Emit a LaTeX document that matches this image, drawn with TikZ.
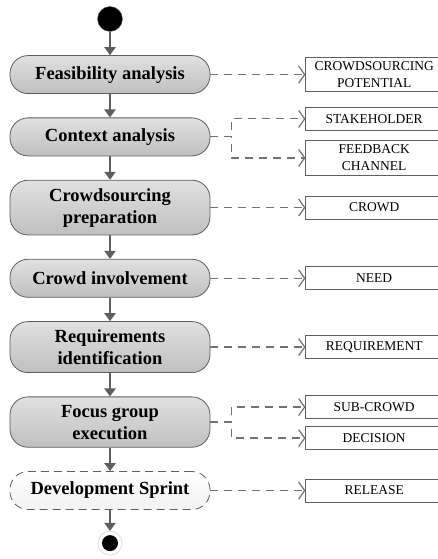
\documentclass[tikz,border=0pt]{standalone}
\usepackage{fontspec}
\setmainfont{Liberation Serif}
\usetikzlibrary{
  arrows.meta, % for Triangle and Straight Barb arrow tips
  positioning, % for relative positioning of the activities and artefacts
}
\definecolor{linegray}{HTML}{5E5E5E}
\definecolor{dashgray}{HTML}{727272}
\tikzset{
  activity/.style={ % style for each activity of the process
    rectangle,rounded corners=18pt, % drawn as a rounded box
    draw=linegray,thick,
    top color=gray!24,bottom color=gray!50, % light to dark gray shading
    minimum width=200pt,minimum height=38pt,
    align=center,inner ysep=8pt,
    font=\fontsize{18.5}{22}\selectfont\bfseries,
  },
  sprint/.style={ % the optional last activity
    activity, % inherit the activity style
    dash pattern=on 8pt off 5pt,
    top color=white,bottom color=gray!10,
  },
  artefact/.style={ % style for the produced artefacts
    rectangle,draw=linegray,thick,fill=white,
    minimum width=136pt,minimum height=23pt,
    text width=130pt,align=center,inner ysep=4pt,
    font=\fontsize{13.5}{17}\selectfont,
  },
  flow/.style={ % style for the control flow
    -{Triangle[length=8pt,width=11pt]},
    line width=2pt,draw=linegray,
  },
  dep/.style={ % style for the dashed artefact links
    -{Straight Barb[length=6pt,width=17pt]},
    line width=1.2pt,draw=dashgray,
    dash pattern=on 8pt off 6pt,
  },
  node distance=23.5pt,
}

\begin{document}
\begin{tikzpicture}

	\useasboundingbox (-110pt,19pt) rectangle (328pt,-540pt);
	\clip (-110pt,19pt) rectangle (328pt,-540pt);

	\node[circle,fill=black,draw=linegray,minimum size=25pt,inner sep=0pt] (start) at (0,0) {};

	\node[activity,below=of start] (feas) {Feasibility analysis};
	\node[activity,below=of feas] (ctx) {Context analysis};
	\node[activity,below=of ctx] (prep) {Crowdsourcing\\preparation};
	\node[activity,below=of prep] (inv) {Crowd involvement};
	\node[activity,below=of inv] (req) {Requirements\\identification};
	\node[activity,below=of req] (focus) {Focus group\\execution};
	\node[sprint,below=of focus] (sprint) {Development Sprint};

	\node[circle,draw=gray!45,fill=white,minimum size=24pt,inner sep=0pt,below=21pt of sprint] (stop) {};
	\node[circle,fill=black,minimum size=16pt,inner sep=0pt] (stopdot) at (stop) {};

	\node[artefact,right=95pt of feas] (pot) {CROWDSOURCING\\POTENTIAL};
	\node[artefact,right=95pt of ctx,yshift=18pt] (stake) {STAKEHOLDER};
	\node[artefact,right=95pt of ctx,yshift=-21pt] (chan) {FEEDBACK\\CHANNEL};
	\node[artefact,right=95pt of prep] (crowd) {CROWD};
	\node[artefact,right=95pt of inv] (need) {NEED};
	\node[artefact,right=95pt of req] (reqt) {REQUIREMENT};
	\node[artefact,right=95pt of focus,yshift=15pt] (sub) {SUB-CROWD};
	\node[artefact,right=95pt of focus,yshift=-16pt] (dec) {DECISION};
	\node[artefact,right=95pt of sprint] (rel) {RELEASE};

	\draw[flow] (start) -- (feas);
	\draw[flow] (feas) -- (ctx);
	\draw[flow] (ctx) -- (prep);
	\draw[flow] (prep) -- (inv);
	\draw[flow] (inv) -- (req);
	\draw[flow] (req) -- (focus);
	\draw[flow] (focus) -- (sprint);
	\draw[flow] (sprint) -- (stop);

	\draw[dep] (feas) -- (pot);
	\draw[dep] (ctx.east) -- ++(21pt,0) |- (stake);
	\draw[dep] (ctx.east) -- ++(21pt,0) |- (chan);
	\draw[dep] (prep) -- (crowd);
	\draw[dep] (inv) -- (need);
	\draw[dep] (req) -- (reqt);
	\draw[dep] (focus.east) -- ++(21pt,0) |- (sub);
	\draw[dep] (focus.east) -- ++(21pt,0) |- (dec);
	\draw[dep] (sprint) -- (rel);

\end{tikzpicture}
\end{document}
